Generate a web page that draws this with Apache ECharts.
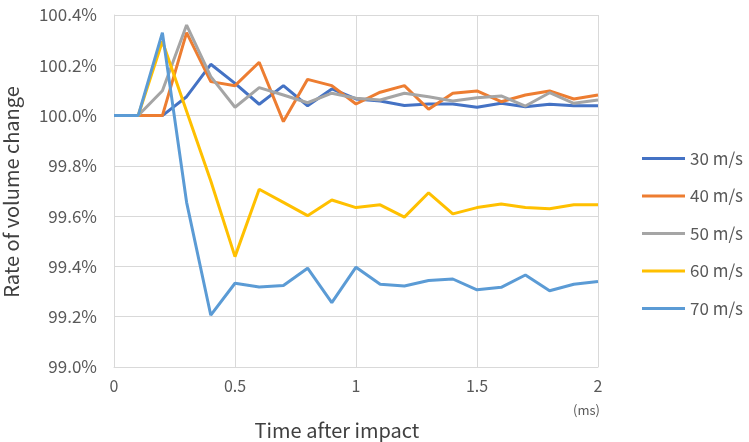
<!DOCTYPE html>
<html>
<head>
<meta charset="utf-8">
<script src="https://cdn.jsdelivr.net/npm/echarts@6/dist/echarts.min.js"></script>
<style>html,body{margin:0;padding:0;background:#fff}#c{width:749px;height:442px}</style>
</head>
<body>
<div id="c"></div>
<script>
var times = [0,0.1,0.2,0.3,0.4,0.5,0.6,0.7,0.8,0.9,1.0,1.1,1.2,1.3,1.4,1.5,1.6,1.7,1.8,1.9,2.0];
var seriesNames = ['30 m/s','40 m/s','50 m/s','60 m/s','70 m/s'];
var v30 = [100,100,100,100.075,100.204,100.128,100.045,100.119,100.039,100.106,100.066,100.058,100.040,100.046,100.046,100.033,100.049,100.035,100.045,100.039,100.039];
var v40 = [100,100,100,100.330,100.135,100.119,100.212,99.976,100.144,100.119,100.046,100.093,100.119,100.025,100.089,100.098,100.055,100.082,100.098,100.066,100.082];
var v50 = [100,100,100.099,100.360,100.155,100.033,100.111,100.082,100.051,100.089,100.069,100.062,100.089,100.075,100.058,100.071,100.078,100.038,100.091,100.049,100.062];
var v60 = [100,100,100.295,100.017,99.740,99.439,99.707,99.655,99.602,99.664,99.634,99.645,99.596,99.693,99.609,99.634,99.648,99.634,99.629,99.645,99.645];
var v70 = [100,100,100.330,99.655,99.206,99.333,99.318,99.324,99.393,99.256,99.397,99.329,99.322,99.344,99.350,99.307,99.317,99.366,99.303,99.329,99.340];
var xTicks = [0,0.5,1,1.5,2];
var colors = ['#4472C4','#ED7D31','#A5A5A5','#FFC000','#5B9BD5'];
var allValues = [v30,v40,v50,v60,v70];

var FONT = '"Noto Sans CJK JP","Noto Sans",sans-serif';
var chart = echarts.init(document.getElementById('c'), null, {renderer:'canvas'});
var series = seriesNames.map(function(n,i){
  return {
    name:n, type:'line', symbol:'none', smooth:false,
    lineStyle:{width:3,color:colors[i]}, itemStyle:{color:colors[i]},
    data: times.map(function(t,j){return [t, allValues[i][j]];})
  };
});
chart.setOption({
  animation:false,
  backgroundColor:'#fff',
  grid:{left:114,right:151,top:15,bottom:75,containLabel:false,outerBoundsMode:'none'},
  legend:{
    orient:'vertical', left:637, top:145, itemWidth:43, itemHeight:3, itemGap:20.5,
    icon:'rect',
    textStyle:{fontFamily:FONT,fontSize:17,color:'#595959'},
    data:seriesNames
  },
  xAxis:{
    type:'value', min:0, max:2, interval:0.5,
    axisLine:{show:true,lineStyle:{color:'#d9d9d9',width:1}},
    axisTick:{show:false},
    splitLine:{show:true,lineStyle:{color:'#d9d9d9',width:1}},
    axisLabel:{fontFamily:FONT,fontSize:16,color:'#595959',margin:11,
      formatter:function(v){return String(v);}}
  },
  yAxis:{
    type:'value', min:99.0, max:100.4, interval:0.2,
    axisLine:{show:true,lineStyle:{color:'#d9d9d9',width:1}},
    axisTick:{show:false},
    splitLine:{show:true,lineStyle:{color:'#d9d9d9',width:1}},
    axisLabel:{fontFamily:FONT,fontSize:17,color:'#595959',margin:17,
      formatter:function(v){return v.toFixed(1)+'%';}}
  },
  graphic:[
    {type:'text',left:573,top:404,style:{text:'(ms)',fontFamily:FONT,fontSize:13,fill:'#595959'}},
    {type:'text',x:337,y:430,style:{text:'Time after impact',fontFamily:FONT,fontSize:20,fill:'#404040',textAlign:'center',textVerticalAlign:'middle'}},
    {type:'text',x:11,y:192,rotation:Math.PI/2,style:{text:'Rate of volume change',fontFamily:FONT,fontSize:20,fill:'#404040',textAlign:'center',textVerticalAlign:'middle'}}
  ],
  series:series
});
</script>
</body>
</html>
